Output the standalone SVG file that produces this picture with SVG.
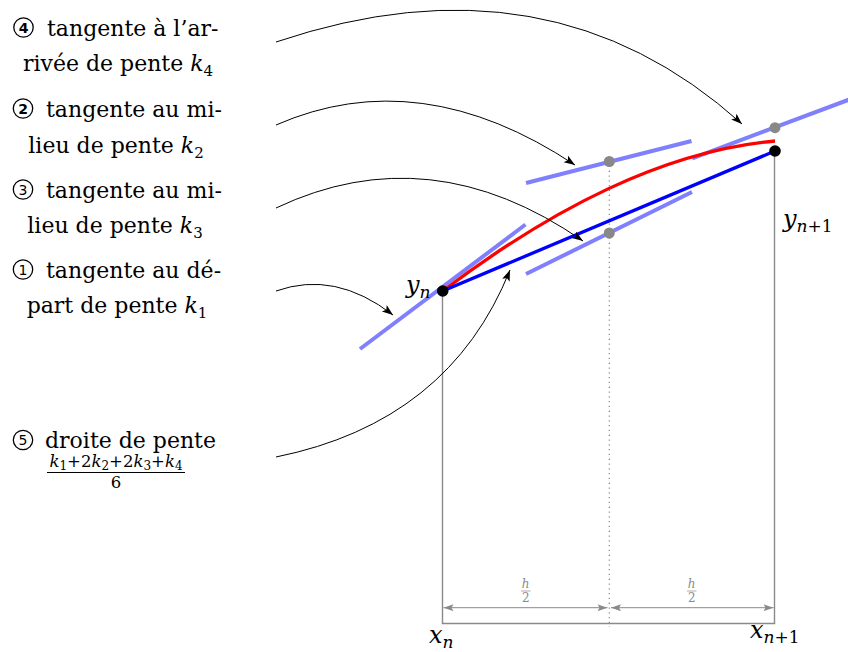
<svg xmlns="http://www.w3.org/2000/svg" width="848" height="652" viewBox="0 0 848 652">
<style>
.t{font-family:"DejaVu Serif","Liberation Serif",serif;font-size:22px;fill:#000}
.ax{font-size:24px}
.m{font-style:italic}
.s{font-size:15px}
.sa{font-size:17px}
.fr{font-size:16.5px}
.fs{font-size:12px}
.num{font-family:"DejaVu Sans","Liberation Sans",sans-serif;font-size:14px;text-anchor:middle}
.circ{fill:none;stroke:#000;stroke-width:1.3}
.gray{stroke:#8a8a8a;stroke-width:1.4;fill:none}
.tan{stroke:#8080ff;stroke-width:4;fill:none}
.conn{stroke:#000;stroke-width:1;fill:none;marker-end:url(#ah)}
.dim{stroke:#8a8a8a;stroke-width:1;fill:none;marker-start:url(#gh);marker-end:url(#gh)}
.h{font-family:"DejaVu Serif","Liberation Serif",serif;font-size:12px;fill:#8a8a8a;text-anchor:middle}
</style>
<defs>
<marker id="ah" markerUnits="userSpaceOnUse" markerWidth="14" markerHeight="10" refX="11" refY="4" orient="auto">
<path d="M0,0 L11,4 L0,8 L2.5,4 Z" fill="#000"/>
</marker>
<marker id="gh" markerUnits="userSpaceOnUse" markerWidth="12" markerHeight="8" refX="10" refY="3.5" orient="auto-start-reverse">
<path d="M0,0 L10,3.5 L0,7 L2,3.5 Z" fill="#8a8a8a"/>
</marker>
</defs>

<g id="frame">
<line class="gray" x1="442.5" y1="291" x2="442.5" y2="623.5"/>
<line class="gray" x1="774.5" y1="151" x2="774.5" y2="623.5"/>
<line class="gray" x1="441.8" y1="623.5" x2="775.2" y2="623.5"/>
<line x1="609.3" y1="161" x2="609.3" y2="627" stroke="#8a8a8a" stroke-width="1.2" stroke-dasharray="1.3,3.5"/>
<line class="dim" x1="443.5" y1="607.7" x2="607.5" y2="607.7"/>
<line class="dim" x1="611" y1="607.7" x2="773.5" y2="607.7"/>
<text class="h" x="525.7" y="588" font-style="italic">h</text>
<line x1="521" y1="591" x2="530.5" y2="591" stroke="#8a8a8a" stroke-width="0.7"/>
<text class="h" x="525.7" y="602">2</text>
<text class="h" x="691.7" y="588" font-style="italic">h</text>
<line x1="687" y1="591" x2="696.5" y2="591" stroke="#8a8a8a" stroke-width="0.7"/>
<text class="h" x="691.7" y="602">2</text>
</g>

<g id="tangents">
<line class="tan" x1="360" y1="349" x2="525.5" y2="224.5"/>
<line class="tan" x1="526" y1="183" x2="691.5" y2="141"/>
<line class="tan" x1="526" y1="274" x2="692" y2="192"/>
<line class="tan" x1="692.3" y1="158.3" x2="852" y2="98.5"/>
</g>

<g id="solution">
<path d="M442.7,291 C553,208 664,151 775,141" stroke="#ff0000" stroke-width="3.3" fill="none"/>
</g>
<g id="rk4">
<line x1="442.7" y1="291" x2="775" y2="151" stroke="#0000ff" stroke-width="3.3"/>
</g>

<g id="points">
<circle cx="609.3" cy="161.5" r="5.5" fill="#888"/>
<circle cx="609.3" cy="233" r="5.5" fill="#888"/>
<circle cx="775" cy="127.7" r="5.5" fill="#888"/>
<circle cx="442.7" cy="291" r="5.8" fill="#000"/>
<circle cx="775" cy="151" r="5.8" fill="#000"/>
</g>

<g id="labels-axes">
<text class="t ax" x="406" y="293"><tspan class="m">y</tspan><tspan class="m sa" dy="5">n</tspan></text>
<text class="t ax" x="783" y="227"><tspan class="m">y</tspan><tspan class="sa" dy="5"><tspan class="m">n</tspan>+1</tspan></text>
<text class="t ax" x="429" y="643"><tspan class="m">x</tspan><tspan class="m sa" dy="5">n</tspan></text>
<text class="t ax" x="750" y="638"><tspan class="m">x</tspan><tspan class="sa" dy="5"><tspan class="m">n</tspan>+1</tspan></text>
</g>

<g id="label4">
<circle class="circ" cx="23.5" cy="27.5" r="9.7"/>
<text class="num" x="23.5" y="32.5" font-weight="bold">4</text>
<text class="t" x="47" y="36">tangente à l’ar-</text>
<text class="t" x="118" y="71" text-anchor="middle">rivée de pente <tspan class="m">k</tspan><tspan class="s" dy="5">4</tspan></text>
</g>
<g id="label2">
<circle class="circ" cx="23" cy="108.5" r="9.7"/>
<text class="num" x="23" y="113.5" font-weight="bold">2</text>
<text class="t" x="46" y="117">tangente au mi-</text>
<text class="t" x="116" y="153" text-anchor="middle">lieu de pente <tspan class="m">k</tspan><tspan class="s" dy="5">2</tspan></text>
</g>
<g id="label3">
<circle class="circ" cx="23" cy="189.5" r="9.7"/>
<text class="num" x="23" y="194.5">3</text>
<text class="t" x="46" y="198">tangente au mi-</text>
<text class="t" x="115" y="233" text-anchor="middle">lieu de pente <tspan class="m">k</tspan><tspan class="s" dy="5">3</tspan></text>
</g>
<g id="label1">
<circle class="circ" cx="23" cy="269.5" r="9.7"/>
<text class="num" x="23" y="274.5">1</text>
<text class="t" x="46" y="278">tangente au dé-</text>
<text class="t" x="117" y="313" text-anchor="middle">part de pente <tspan class="m">k</tspan><tspan class="s" dy="5">1</tspan></text>
</g>
<g id="label5">
<circle class="circ" cx="23" cy="440" r="9.7"/>
<text class="num" x="23" y="445">5</text>
<text class="t" x="45" y="448">droite de pente</text>
<text class="t fr" x="116" y="467" text-anchor="middle"><tspan class="m">k</tspan><tspan class="fs" dy="3">1</tspan><tspan dy="-3">+2</tspan><tspan class="m">k</tspan><tspan class="fs" dy="3">2</tspan><tspan dy="-3">+2</tspan><tspan class="m">k</tspan><tspan class="fs" dy="3">3</tspan><tspan dy="-3">+</tspan><tspan class="m">k</tspan><tspan class="fs" dy="3">4</tspan></text>
<line x1="47" y1="472.5" x2="185" y2="472.5" stroke="#000" stroke-width="1"/>
<text class="t fr" x="116" y="488" text-anchor="middle">6</text>
</g>

<g id="connectors">
<path class="conn" d="M276,42 Q549,-50 742,124"/>
<path class="conn" d="M276,125 Q420,62 575,165"/>
<path class="conn" d="M276,208 Q430,135 583,241"/>
<path class="conn" d="M276,291 Q335,270 393,315"/>
<path class="conn" d="M276,457 Q449,422 510,270"/>
</g>
</svg>
